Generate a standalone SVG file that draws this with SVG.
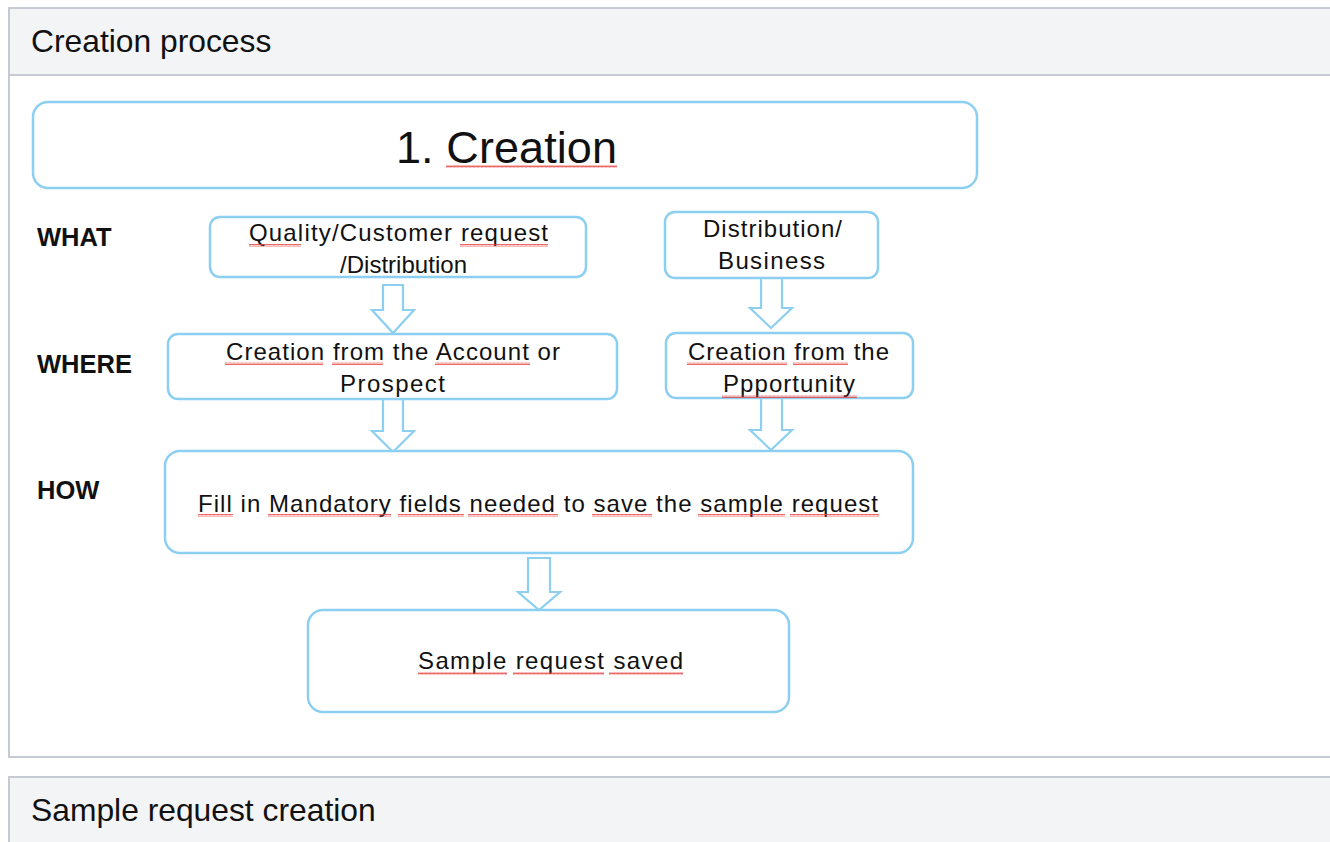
<svg xmlns="http://www.w3.org/2000/svg" width="1330" height="842" viewBox="0 0 1330 842">
  <defs>
    <style>
      .panel { fill: #ffffff; stroke: #c5cad3; stroke-width: 2; }
      .hdr { fill: #f3f4f6; stroke: #c5cad3; stroke-width: 2; }
      .hdrtxt { font-family: "Liberation Sans", Arial, sans-serif; font-size: 31.8px; fill: #111111; }
      .box { fill: #ffffff; stroke: #8dcff0; stroke-width: 2.5; }
      .arrow { fill: #ffffff; stroke: #8dcff0; stroke-width: 2.2; stroke-linejoin: miter; }
      .t { font-family: "Liberation Sans", Arial, sans-serif; font-size: 24px; fill: #111111; text-anchor: start; }
      .lbl { font-family: "Liberation Sans", Arial, sans-serif; font-size: 25.5px; font-weight: bold; fill: #111111; }
      .title { font-family: "Liberation Sans", Arial, sans-serif; font-size: 45px; fill: #111111; }
      .sq { fill: url(#wavy); }
    </style>
    <pattern id="wavy" x="0" y="0" width="4" height="3" patternUnits="userSpaceOnUse">
      <path d="M0,2.5 L1,0.5 L2,2.5 L3,0.5 L4,2.5" fill="none" stroke="#e8413c" stroke-width="0.8"/>
    </pattern>
  </defs>

  <!-- Panel 1 -->
  <g id="panel-creation-process">
    <rect class="panel" x="9" y="8" width="1340" height="749"/>
    <rect class="hdr" x="9" y="8" width="1340" height="67"/>
    <text class="hdrtxt" x="31" y="52">Creation process</text>
  </g>

  <!-- Panel 2 -->
  <g id="panel-sample-request-creation">
    <rect class="hdr" x="9" y="777" width="1340" height="80"/>
    <text class="hdrtxt" x="31" y="821">Sample request creation</text>
  </g>

  <!-- Row labels -->
  <g id="labels">
    <text class="lbl" x="37" y="246">WHAT</text>
    <text class="lbl" x="37" y="373">WHERE</text>
    <text class="lbl" x="37" y="499">HOW</text>
  </g>

  <!-- Connectors -->
  <g id="connectors">
    <polygon class="arrow" points="383,285 403,285 403,310 414,310 393,333 372,310 383,310"/>
    <polygon class="arrow" points="383,399 403,399 403,431 414,431 393,452 372,431 383,431"/>
    <polygon class="arrow" points="761,278 782,278 782,308 792,308 771,328 750,308 761,308"/>
    <polygon class="arrow" points="761,398 782,398 782,430 792,430 771,450 750,430 761,430"/>
    <polygon class="arrow" points="528,558 550,558 550,592 560,592 539,610 518,592 528,592"/>
  </g>

  <!-- Nodes -->
  <g id="node-title">
    <rect class="box" x="33" y="102" width="944" height="86" rx="15"/>
    <text class="title" x="396" y="163" textLength="221" lengthAdjust="spacing">1. Creation</text>
    <rect class="sq" x="446" y="165" width="171" height="3"/>
  </g>

  <g id="node-what-left">
    <rect class="box" x="210" y="217" width="376" height="60" rx="10"/>
    <text class="t" x="249" y="241" textLength="299" lengthAdjust="spacing">Quality/Customer request</text>
    <text class="t" x="340" y="273" textLength="127" lengthAdjust="spacing">/Distribution</text>
    <rect class="sq" x="249" y="244" width="52" height="3"/>
    <rect class="sq" x="460" y="244" width="88" height="3"/>
  </g>

  <g id="node-what-right">
    <rect class="box" x="665" y="212" width="213" height="66" rx="10"/>
    <text class="t" x="703" y="237" textLength="139" lengthAdjust="spacing">Distribution/</text>
    <text class="t" x="718" y="269" textLength="107" lengthAdjust="spacing">Business</text>
  </g>

  <g id="node-where-left">
    <rect class="box" x="168" y="334" width="449" height="65" rx="10"/>
    <text class="t" x="226" y="360" textLength="334" lengthAdjust="spacing">Creation from the Account or</text>
    <text class="t" x="340" y="392" textLength="105" lengthAdjust="spacing">Prospect</text>
    <rect class="sq" x="225" y="362" width="98" height="3"/>
    <rect class="sq" x="332" y="362" width="51" height="3"/>
    <rect class="sq" x="435" y="362" width="95" height="3"/>
  </g>

  <g id="node-where-right">
    <rect class="box" x="666" y="333" width="247" height="65" rx="10"/>
    <text class="t" x="688" y="360" textLength="201" lengthAdjust="spacing">Creation from the</text>
    <text class="t" x="723" y="392" textLength="132" lengthAdjust="spacing">Ppportunity</text>
    <rect class="sq" x="687" y="362" width="100" height="3"/>
    <rect class="sq" x="793" y="362" width="55" height="3"/>
    <rect class="sq" x="722" y="395" width="135" height="3"/>
  </g>

  <g id="node-how">
    <rect class="box" x="165" y="451" width="748" height="102" rx="15"/>
    <text class="t" x="198" y="512" textLength="680" lengthAdjust="spacing">Fill in Mandatory fields needed to save the sample request</text>
    <rect class="sq" x="198" y="514" width="35" height="3"/>
    <rect class="sq" x="268" y="514" width="123" height="3"/>
    <rect class="sq" x="398" y="514" width="66" height="3"/>
    <rect class="sq" x="468" y="514" width="90" height="3"/>
    <rect class="sq" x="592" y="514" width="60" height="3"/>
    <rect class="sq" x="698" y="514" width="87" height="3"/>
    <rect class="sq" x="790" y="514" width="89" height="3"/>
  </g>

  <g id="node-saved">
    <rect class="box" x="308" y="610" width="481" height="102" rx="15"/>
    <text class="t" x="418" y="669" textLength="265" lengthAdjust="spacing">Sample request saved</text>
    <rect class="sq" x="418" y="672" width="89" height="3"/>
    <rect class="sq" x="513" y="672" width="91" height="3"/>
    <rect class="sq" x="609" y="672" width="74" height="3"/>
  </g>
</svg>
